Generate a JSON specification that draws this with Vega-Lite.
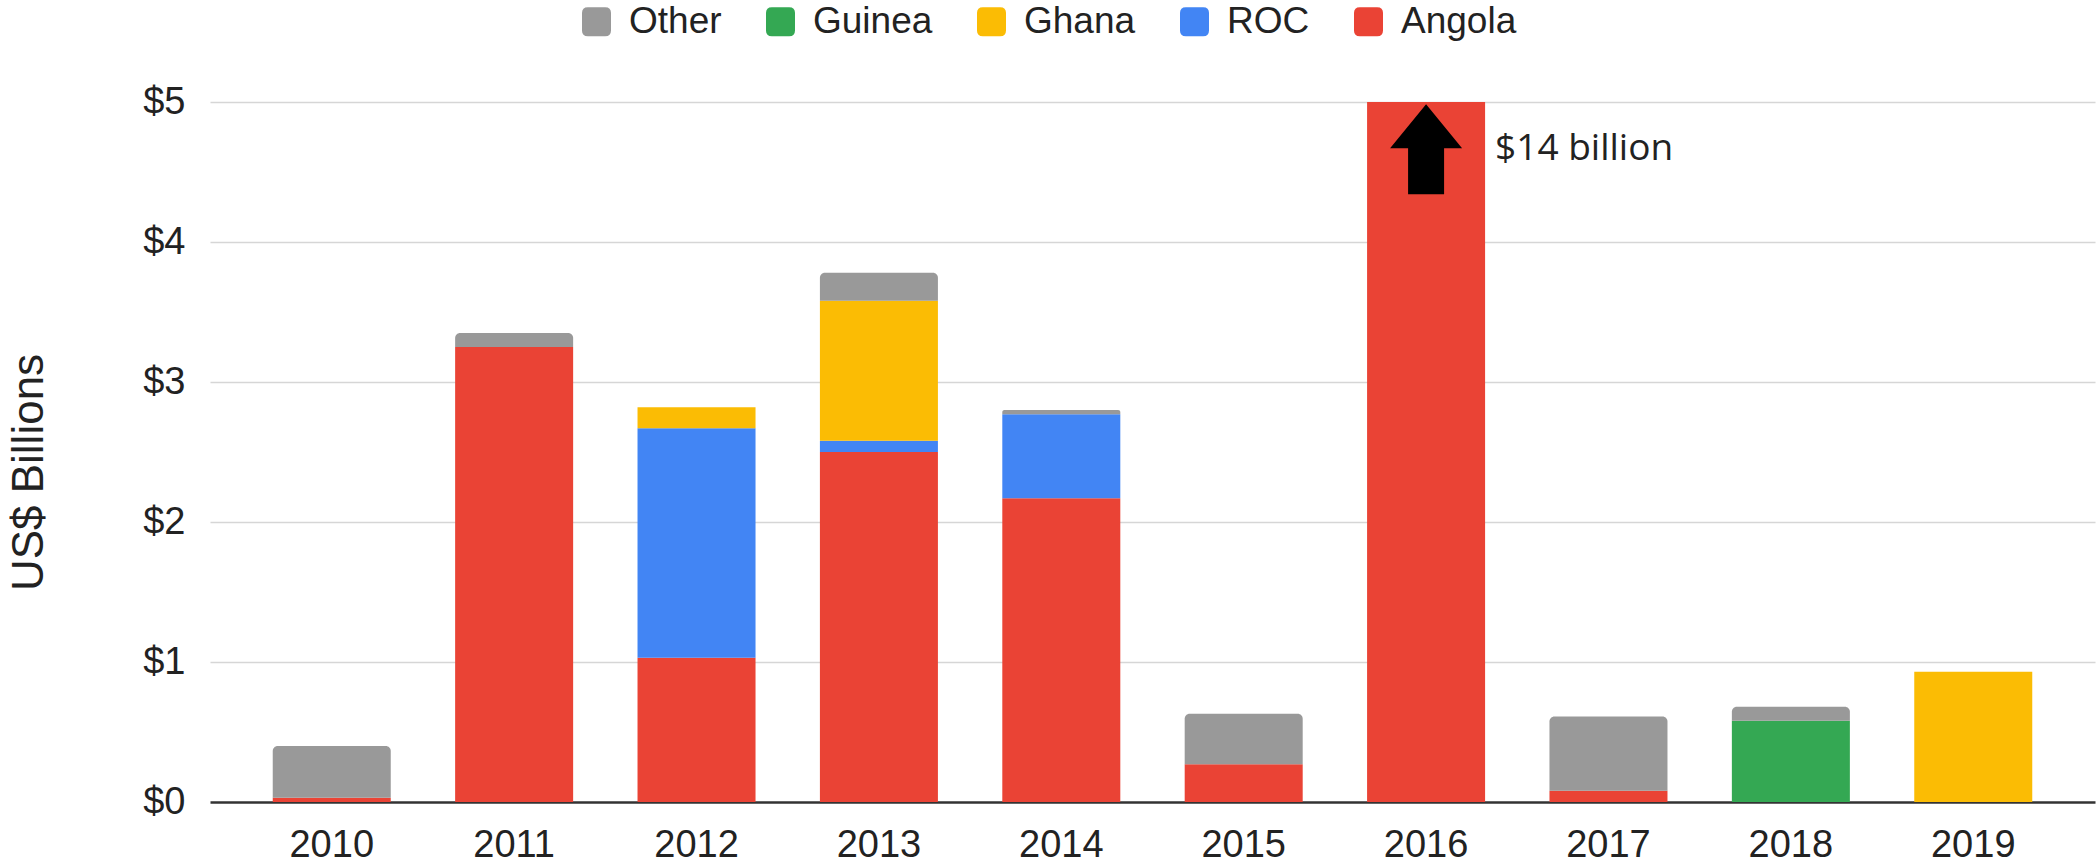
{
  "$schema": "https://vega.github.io/schema/vega-lite/v6.json",
  "width": 1885,
  "height": 700,
  "autosize": {"type": "none"},
  "padding": {"left": 210, "top": 102, "right": 3, "bottom": 66},
  "background": "white",
  "config": {"view": {"stroke": null}, "font": "Liberation Sans"},
  "datasets": {
    "bars": [
      {"year": "2010", "country": "Angola", "value": 0.03},
      {"year": "2010", "country": "Other", "value": 0.37},
      {"year": "2011", "country": "Angola", "value": 3.25},
      {"year": "2011", "country": "Other", "value": 0.10},
      {"year": "2012", "country": "Angola", "value": 1.03},
      {"year": "2012", "country": "ROC", "value": 1.64},
      {"year": "2012", "country": "Ghana", "value": 0.15},
      {"year": "2013", "country": "Angola", "value": 2.50},
      {"year": "2013", "country": "ROC", "value": 0.08},
      {"year": "2013", "country": "Ghana", "value": 1.00},
      {"year": "2013", "country": "Other", "value": 0.20},
      {"year": "2014", "country": "Angola", "value": 2.17},
      {"year": "2014", "country": "ROC", "value": 0.60},
      {"year": "2014", "country": "Other", "value": 0.03},
      {"year": "2015", "country": "Angola", "value": 0.27},
      {"year": "2015", "country": "Other", "value": 0.36},
      {"year": "2016", "country": "Angola", "value": 14},
      {"year": "2017", "country": "Angola", "value": 0.08},
      {"year": "2017", "country": "Other", "value": 0.53},
      {"year": "2018", "country": "Guinea", "value": 0.58},
      {"year": "2018", "country": "Other", "value": 0.10},
      {"year": "2019", "country": "Ghana", "value": 0.93}
    ],
    "notes": [
      {"year": "2016", "value": 4.663, "label": "$14 billion"}
    ]
  },
  "layer": [
    {
      "data": {"name": "bars"},
      "transform": [
        {"calculate": "indexof(['Angola','ROC','Ghana','Guinea','Other'], datum.country)", "as": "ord"},
        {"stack": "value", "groupby": ["year"], "sort": [{"field": "ord", "order": "ascending"}], "as": ["v0", "v1"]},
        {"filter": "datum.country !== 'Other'"}
      ],
      "mark": {"type": "bar", "clip": true},
      "encoding": {
        "x": {
          "field": "year", "type": "nominal",
          "scale": {"paddingInner": 0.353, "paddingOuter": 0.344},
          "axis": {"title": null, "ticks": false, "domain": false, "labelAngle": 0, "labelFontSize": 38, "labelPadding": 24, "labelColor": "#222222", "grid": false}
        },
        "y": {
          "field": "v0", "type": "quantitative",
          "scale": {"domain": [0, 5], "nice": false},
          "axis": {
            "values": [0, 1, 2, 3, 4, 5],
            "labelExpr": "'$' + datum.value",
            "domain": false, "ticks": false,
            "labelFontSize": 38, "labelPadding": 25, "labelColor": "#222222",
            "grid": true,
            "gridColor": {"condition": {"test": "datum.value === 0", "value": "#333333"}, "value": "#d6d6d6"},
            "gridWidth": {"condition": {"test": "datum.value === 0", "value": 2.5}, "value": 1.5},
            "title": "US$ Billions",
            "titleFontSize": 44, "titleFontWeight": "normal", "titleColor": "#222222",
            "titleAngle": -90, "titleAlign": "center", "titleBaseline": "alphabetic",
            "titleX": -168, "titleY": 370
          }
        },
        "y2": {"field": "v1"},
        "color": {
          "field": "country", "type": "nominal",
          "scale": {"domain": ["Other", "Guinea", "Ghana", "ROC", "Angola"], "range": ["#999999", "#34A853", "#FBBC04", "#4285F4", "#EA4335"]},
          "legend": {
            "orient": "none", "legendX": 368, "legendY": -99, "direction": "horizontal",
            "title": null,
            "symbolType": "M-1,-0.6Q-1,-1,-0.6,-1L0.6,-1Q1,-1,1,-0.6L1,0.6Q1,1,0.6,1L-0.6,1Q-1,1,-1,0.6Z",
            "symbolSize": 841, "symbolStrokeWidth": 0, "symbolOpacity": 1,
            "labelFontSize": 37, "labelOffset": 14, "columnPadding": 40, "labelColor": "#222222",
            "padding": 0
          }
        }
      }
    },
    {
      "data": {"name": "bars"},
      "transform": [
        {"calculate": "indexof(['Angola','ROC','Ghana','Guinea','Other'], datum.country)", "as": "ord"},
        {"stack": "value", "groupby": ["year"], "sort": [{"field": "ord", "order": "ascending"}], "as": ["v0", "v1"]},
        {"filter": "datum.country === 'Other'"}
      ],
      "mark": {"type": "bar", "clip": true, "cornerRadiusTopLeft": 5, "cornerRadiusTopRight": 5},
      "encoding": {
        "x": {"field": "year", "type": "nominal"},
        "y": {"field": "v0", "type": "quantitative"},
        "y2": {"field": "v1"},
        "color": {"field": "country", "type": "nominal"}
      }
    },
    {
      "data": {"name": "notes"},
      "mark": {
        "type": "point",
        "shape": "M0,-1L0.8,-0.02L0.4,-0.02L0.4,1L-0.4,1L-0.4,-0.02L-0.8,-0.02Z",
        "filled": true, "color": "#000000", "opacity": 1, "size": 8100, "strokeWidth": 0
      },
      "encoding": {
        "x": {"field": "year", "type": "nominal"},
        "y": {"field": "value", "type": "quantitative"}
      }
    },
    {
      "data": {"name": "notes"},
      "mark": {"type": "text", "align": "left", "baseline": "middle", "dx": 69, "font": "Open Sans", "fontSize": 37, "color": "#222222"},
      "encoding": {
        "x": {"field": "year", "type": "nominal"},
        "y": {"field": "value", "type": "quantitative"},
        "text": {"field": "label"}
      }
    }
  ]
}
